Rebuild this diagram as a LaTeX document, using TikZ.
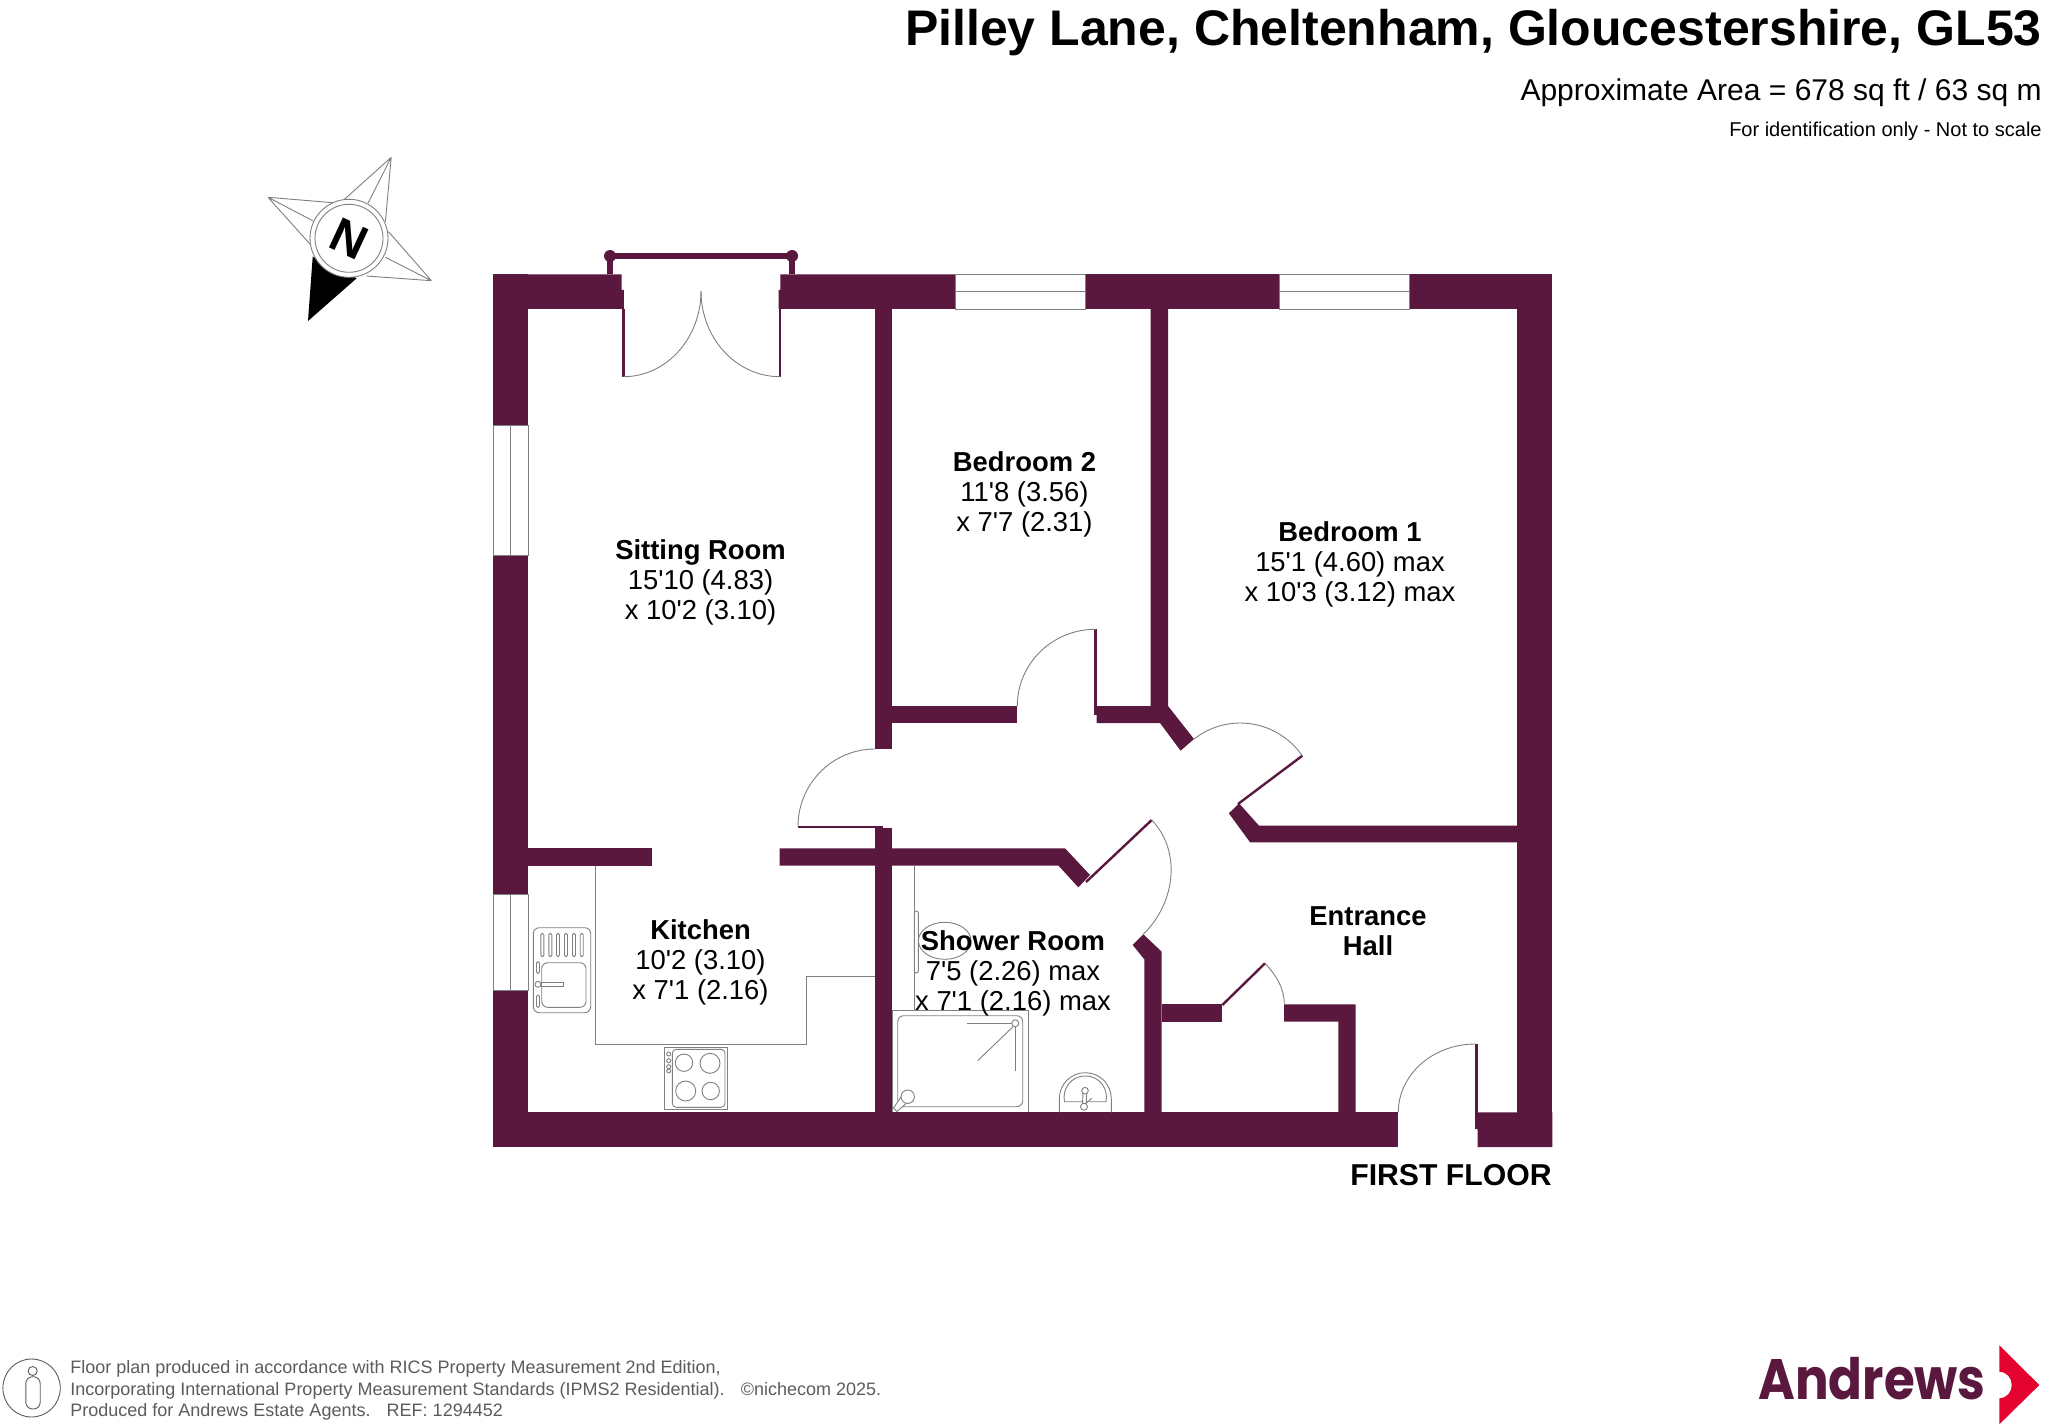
\documentclass[tikz,border=0pt]{standalone}
\usepackage{fontspec}
\setmainfont{Liberation Sans}
\newfontfamily\logofont{Poppins}
\usetikzlibrary{calc}
\definecolor{wallc}{HTML}{5A183F}
\definecolor{thinc}{HTML}{808080}
\definecolor{footc}{HTML}{5C5C5C}
\definecolor{redc}{HTML}{E4032E}
\newcommand{\ap}{\textquotesingle}
\newcommand{\qarc}[3]{\draw[arcline] (#1) .. controls ($(#1)+0.5523*(#2)-0.5523*(#3)$) and ($(#2)+0.5523*(#1)-0.5523*(#3)$) .. (#2);}
\tikzset{
  wall/.style={fill=wallc,draw=none},
  leaf/.style={draw=wallc,line width=1.2pt},
  arcline/.style={draw=thinc,line width=0.45pt},
  fit/.style={draw=thinc,line width=0.45pt},
  win/.style={draw=thinc,line width=0.45pt,fill=white},
  room/.style={align=center,font=\fontsize{13.7}{15}\selectfont,text=black,inner sep=0pt},
  head/.style={anchor=base east,inner sep=0pt,text=black},
  foot/.style={anchor=base west,inner sep=0pt,text=footc,font=\fontsize{9}{10}\selectfont}
}
\begin{document}
\begin{tikzpicture}[x=0.5pt,y=-0.5pt]
\useasboundingbox[fill=white] (0,0) rectangle (2048,1427);

% header
\node[head,font=\fontsize{25}{28}\selectfont\bfseries] (title) at (2042,45.5) {Pilley Lane, Cheltenham, Gloucestershire, GL53};
\node[head,font=\fontsize{15}{17}\selectfont] (area) at (2042,100.5) {Approximate Area = 678 sq ft / 63 sq m};
\node[head,font=\fontsize{10}{12}\selectfont] (note) at (2042,136.5) {For identification only - Not to scale};

% compass
\fill[black] (308,321) -- (312.7,256.7) -- (356.7,278.3) -- cycle;
\draw[fit] (391.2,157.3) -- (342.6,201) (391.2,157.3) -- (368,203.3) (391.2,157.3) -- (385.4,221.7);
\draw[fit] (268,197.3) -- (333,202.7) (268,197.3) -- (312.7,220.7) (268,197.3) -- (310.8,245);
\draw[fit] (431.4,280.7) -- (388.5,231.7) (431.4,280.7) -- (385.4,257.3) (431.4,280.7) -- (366.3,276);
\draw[fit,fill=white] (349,238.3) circle[radius=39];
\draw[fit] (349,238.3) circle[radius=34];
\node[inner sep=0pt,rotate=-25,font=\fontsize{24}{26}\selectfont\bfseries,text=black] (north) at (349,239) {N};

% outer walls
\fill[wall] (493.3,274.3) rectangle (528.3,425.7);
\fill[wall] (493.3,555.7) rectangle (528.3,894);
\fill[wall] (493.3,990) rectangle (528.3,1147);
\fill[wall] (493.3,274.3) -- (621.5,274.3) -- (621.5,290) -- (623.9,290) -- (623.9,309) -- (493.3,309) -- cycle;
\fill[wall] (780.4,274.3) -- (955,274.3) -- (955,309) -- (778.5,309) -- (778.5,290) -- (780.4,290) -- cycle;
\fill[wall] (1085,274.3) rectangle (1279,309);
\fill[wall] (1409,274.3) rectangle (1552.3,309);
\fill[wall] (1517,274.3) rectangle (1552.3,1147);
\fill[wall] (493.3,1112.3) rectangle (1398.3,1147);
\fill[wall] (1475.3,1112.3) -- (1552.3,1112.3) -- (1552.3,1147) -- (1477.5,1147) -- (1477.5,1129) -- (1475.3,1129) -- cycle;

% windows
\draw[win] (955,274.3) rectangle (1085,309);
\draw[fit] (955,291.6) -- (1085,291.6);
\draw[win] (1279,274.3) rectangle (1409,309);
\draw[fit] (1279,291.6) -- (1409,291.6);
\draw[win] (493.3,425.7) rectangle (528.3,555.7);
\draw[fit] (510.8,425.7) -- (510.8,555.7);
\draw[win] (493.3,894) rectangle (528.3,990);
\draw[fit] (510.8,894) -- (510.8,990);

% balcony rail
\fill[wall] (610,253) rectangle (792,259);
\fill[wall] (607,256) rectangle (613,274.3);
\fill[wall] (789,256) rectangle (795,274.3);
\fill[wall] (610,256) circle[radius=6];
\fill[wall] (792,256) circle[radius=6];

% french doors
\fill[wall] (622,309) rectangle (624.5,376.7);
\fill[wall] (778.5,309) rectangle (781,376.7);
\qarc{623.5,376.7}{701,291}{623.5,291}
\qarc{780,376.7}{701,291}{780,291}

% interior walls
\fill[wall] (875,309) rectangle (892,749);
\fill[wall] (875,827.7) rectangle (892,1112.3);
\fill[wall] (892,706) rectangle (1017.3,723);
\fill[wall] (1150.7,309) -- (1168,309) -- (1168,706) -- (1194,739) -- (1180.6,750.7) -- (1160,723) -- (1096.5,723) -- (1096.5,706) -- (1150.7,706) -- cycle;
\fill[wall] (528.3,848.3) rectangle (651.7,865.5);
\fill[wall] (779.7,848.3) -- (1065,848.3) -- (1090,875) -- (1078.3,887.3) -- (1058.3,865.5) -- (779.7,865.5) -- cycle;
\fill[wall] (1143.3,934.3) -- (1161.7,951.7) -- (1161.7,1112.3) -- (1144.3,1112.3) -- (1144.3,959.3) -- (1132.7,945) -- cycle;
\fill[wall] (1228.9,813.3) -- (1239,803.3) -- (1259,825.7) -- (1517,825.7) -- (1517,842.3) -- (1250,842.3) -- cycle;
\fill[wall] (1161.7,1004.3) rectangle (1222.3,1021.7);
\fill[wall] (1284,1004.3) -- (1355.7,1004.3) -- (1355.7,1112.3) -- (1338.3,1112.3) -- (1338.3,1021.7) -- (1284,1021.7) -- cycle;

% door leaves and swings
\draw[leaf] (798,827) -- (883,827);
\qarc{798,826.5}{875,749}{875,826.5}
\draw[leaf] (1095.3,629.3) -- (1095.3,715);
\qarc{1017.3,706}{1095.3,629.3}{1095.3,706}
\draw[leaf] (1302.3,755.7) -- (1238,804);
\qarc{1194,739}{1302.3,755.7}{1240,804}
\draw[leaf] (1151.7,820) -- (1086,882);
\qarc{1151.7,820}{1143.3,934.3}{1091,880}
\draw[leaf] (1265,963.3) -- (1222.3,1005);
\draw[arcline] (1265,963.3) .. controls (1276,975) and (1284.3,988) .. (1284.3,1004.3);
\draw[leaf] (1476.3,1044) -- (1476.3,1129);
\qarc{1398.3,1112.3}{1475.5,1044}{1475.5,1112.3}

% kitchen fittings
\draw[fit] (595.7,865.5) -- (595.7,1044.3) -- (806.7,1044.3) -- (806.7,976) -- (875,976);
\draw[fit,rounded corners=3pt] (533.3,927.7) rectangle (590.7,1012.7);
\draw[fit,rounded corners=3pt] (541.7,962.7) rectangle (586,1007.3);
\foreach \sx in {542.3,550.3,558,566,574,581.7}
  \draw[fit,rounded corners=0.7pt] (\sx-1.5,933.3) rectangle (\sx+1.5,956.7);
\draw[fit,rounded corners=0.7pt] (536.5,961.7) rectangle (539.5,973.3);
\draw[fit,rounded corners=0.7pt] (536.5,995) rectangle (539.5,1007.3);
\draw[fit,fill=white] (541,982) rectangle (563.5,986.5);
\draw[fit,fill=white] (538,984.3) circle[radius=3];
\draw[fit] (664.3,1047) rectangle (727,1109.7);
\draw[fit,rounded corners=2pt] (672.3,1049.3) rectangle (725,1107.3);
\draw[fit] (684,1062.7) circle[radius=8.7];
\draw[fit] (710,1063.3) circle[radius=10];
\draw[fit] (685.7,1091) circle[radius=10];
\draw[fit] (710.7,1091) circle[radius=8.7];
\foreach \ky in {1054,1060.7,1066.7,1071}
  \draw[fit] (668.7,\ky) circle[radius=2];

% shower room fittings
\draw[fit] (914.3,865.5) -- (914.3,1010);
\draw[fit,rounded corners=1pt] (914.3,911) rectangle (918.3,973);
\draw[fit] (944.7,940.8) ellipse[x radius=26.3,y radius=18.5];
\draw[fit] (892.3,1112.3) -- (892.3,1010) -- (1028.7,1010) -- (1028.7,1112.3);
\draw[fit,rounded corners=3pt] (897.7,1015.7) rectangle (1022.7,1106.7);
\draw[fit] (1015.3,1023.3) circle[radius=3.5];
\draw[fit] (967.3,1023.3) -- (1011.8,1023.3);
\draw[fit] (1015.3,1026.8) -- (1015.3,1071);
\draw[fit] (1013,1026.7) -- (977.7,1060.7);
\draw[fit,fill=white,line cap=round] (893.5,1108) -- (903,1094) -- (909,1101) -- (897,1111.5) -- cycle;
\draw[fit,fill=white] (907.7,1096.7) circle[radius=6.7];
\draw[fit] (1059.3,1112.3) -- (1059.3,1099) .. controls (1059.3,1084) and (1071,1072.7) .. (1085.3,1072.7) .. controls (1099.6,1072.7) and (1111.3,1084) .. (1111.3,1099) -- (1111.3,1112.3);
\draw[fit] (1064.5,1101.7) .. controls (1062,1090) and (1070,1076) .. (1085.3,1076) .. controls (1100.6,1076) and (1108.5,1090) .. (1106,1101.7) -- cycle;
\draw[fit,fill=white] (1083,1090.7) -- (1082.5,1105) -- (1086,1105) -- (1087,1090.7) -- cycle;
\draw[fit,fill=white] (1084,1105) -- (1091.7,1098.3);
\draw[fit,fill=white] (1085,1090.7) circle[radius=3.3];
\draw[fit,fill=white] (1084,1106.7) circle[radius=3.5];

% room labels
\node[room] (sitting) at (700.5,582.5) {\textbf{Sitting Room}\\15\ap10 (4.83)\\x 10\ap2 (3.10)};
\node[room] (bed2) at (1024.5,494.5) {\textbf{Bedroom 2}\\11\ap8 (3.56)\\x 7\ap7 (2.31)};
\node[room] (bed1) at (1350,564) {\textbf{Bedroom 1}\\15\ap1 (4.60) max\\x 10\ap3 (3.12) max};
\node[room] (kitchen) at (700.5,962.5) {\textbf{Kitchen}\\10\ap2 (3.10)\\x 7\ap1 (2.16)};
\node[room] (shower) at (1013,973) {\textbf{Shower Room}\\7\ap5 (2.26) max\\x 7\ap1 (2.16) max};
\node[room] (hall) at (1368,931) {\textbf{Entrance}\\\textbf{Hall}};
\node[head,font=\fontsize{15.1}{17}\selectfont\bfseries] (floor) at (1552,1185.5) {FIRST FLOOR};

% footer
\draw[draw=footc,line width=0.45pt] (31.6,1388) ellipse[x radius=28.7,y radius=29];
\draw[draw=footc,line width=0.45pt] (32.7,1371) circle[radius=4.5];
\draw[draw=footc,line width=0.45pt,rounded corners=3.4pt] (25.8,1376.7) rectangle (40.2,1409);
\node[foot] (f1) at (70,1373) {Floor plan produced in accordance with RICS Property Measurement 2nd Edition,};
\node[foot] (f2) at (70,1395) {Incorporating International Property Measurement Standards (IPMS2 Residential).\hspace{0.9em}©nichecom 2025.};
\node[foot] (f3) at (70,1416) {Produced for Andrews Estate Agents.\hspace{0.9em}REF: 1294452};

% logo
\node[anchor=base west,inner sep=0pt,text=wallc,font=\fontsize{28.5}{32}\logofont\bfseries] (logo) at (1758,1399) {\scalebox{0.875}[1]{Andrews}};
\fill[redc] (1999.3,1345.3) -- (2039.3,1385) -- (1999.3,1424.3) -- (1999.3,1398.3) .. controls (2007,1398) and (2011.7,1392) .. (2011.7,1385) .. controls (2011.7,1378) and (2007,1372) .. (1999.3,1371.7) -- cycle;
\end{tikzpicture}
\end{document}
